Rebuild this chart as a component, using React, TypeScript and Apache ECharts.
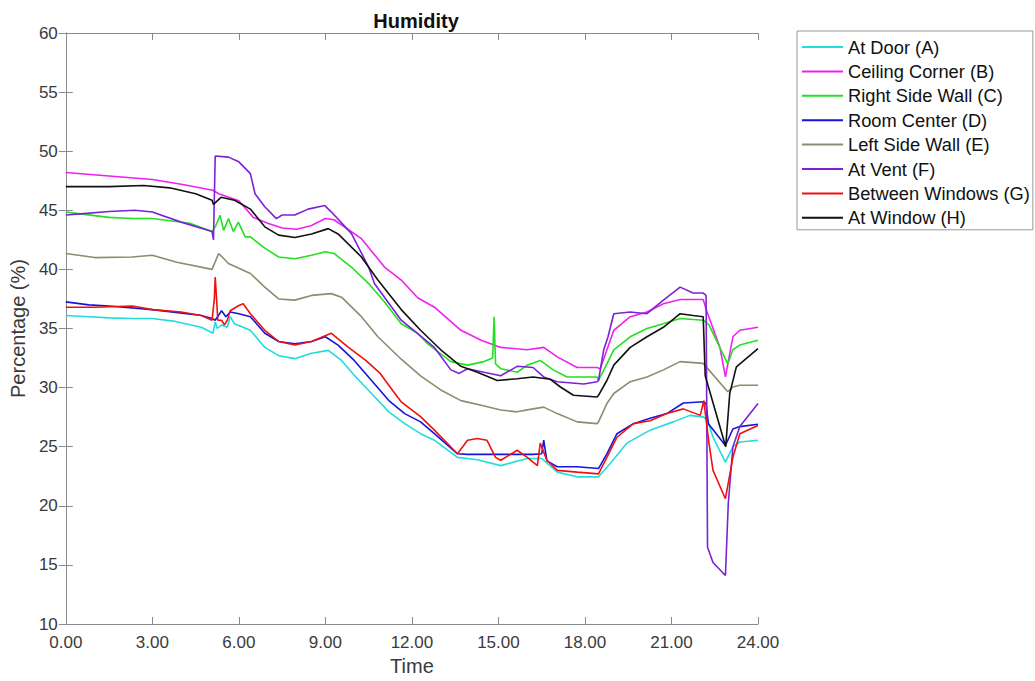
import React, { useEffect, useRef } from "react";
import * as echarts from "echarts";

// [time (h), humidity (%)]
const atDoorA: [number, number][] = [
  [0, 36.1], [0.8, 36.0], [1.5, 35.9], [2.3, 35.85], [3.0, 35.85], [3.8, 35.6], [4.7, 35.1], [5.1, 34.6],
  [5.18, 35.55], [5.25, 35.0], [5.4, 35.3], [5.6, 35.1], [5.7, 36.0], [5.85, 35.4], [6.4, 34.85], [6.9, 33.4],
  [7.38, 32.7], [7.94, 32.45], [8.52, 32.9], [9.1, 33.15], [9.56, 32.3], [10.0, 31.05], [10.6, 29.5], [11.2, 27.95],
  [11.75, 26.95], [12.3, 26.1], [12.78, 25.55], [13.58, 24.1], [14.27, 23.9], [15.08, 23.4], [16.0, 24.0], [16.5, 24.0],
  [17.04, 22.85], [17.73, 22.45], [18.47, 22.45], [18.87, 23.55], [19.45, 25.3], [20.26, 26.4], [21.06, 27.1],
  [21.64, 27.65], [22.12, 27.5], [22.25, 27.2], [22.44, 25.8], [22.87, 23.7], [23.13, 25.0], [23.37, 25.4], [24, 25.55],
];

const ceilingCornerB: [number, number][] = [
  [0, 48.2], [1.5, 47.9], [3.0, 47.6], [4.0, 47.2], [5.1, 46.7], [5.3, 46.4], [6.0, 45.8], [6.5, 44.4], [7.0, 43.9],
  [7.5, 43.5], [8.0, 43.4], [8.5, 43.7], [9.0, 44.3], [9.3, 44.2], [10.25, 42.6], [11.05, 40.2], [11.63, 39.1],
  [12.2, 37.6], [12.78, 36.8], [13.7, 34.85], [14.4, 34.0], [15.08, 33.4], [16.0, 33.2], [16.57, 33.4], [17.04, 32.6],
  [17.73, 31.7], [18.42, 31.7], [18.53, 31.6], [19.0, 34.85], [19.57, 36.0], [20.15, 36.4], [20.72, 37.1], [21.3, 37.45],
  [22.1, 37.45], [22.22, 36.5], [22.68, 33.4], [22.87, 30.9], [23.13, 34.3], [23.37, 34.85], [24, 35.1],
];

const rightSideWallC: [number, number][] = [
  [0, 44.85], [0.5, 44.7], [1.5, 44.4], [2.3, 44.3], [3.0, 44.3], [4.3, 43.9], [5.07, 43.2], [5.18, 43.6],
  [5.35, 44.57], [5.47, 43.3], [5.64, 44.3], [5.81, 43.2], [5.98, 44.0], [6.22, 42.75], [6.4, 42.75], [6.9, 41.8],
  [7.38, 41.05], [7.94, 40.9], [8.52, 41.2], [9.0, 41.5], [9.3, 41.35], [9.9, 40.2], [10.5, 38.8], [11.05, 37.25],
  [11.63, 35.4], [12.2, 34.6], [12.55, 33.7], [13.35, 32.2], [13.93, 31.9], [14.5, 32.2], [14.8, 32.5], [14.85, 36.0],
  [14.9, 32.0], [15.08, 31.6], [15.65, 31.3], [16.0, 31.9], [16.45, 32.3], [16.9, 31.5], [17.38, 30.9], [17.96, 30.9],
  [18.42, 30.9], [18.47, 30.6], [18.76, 32.0], [19.0, 33.2], [19.57, 34.3], [20.15, 35.0], [20.72, 35.4], [21.3, 35.85],
  [22.1, 35.7], [22.3, 35.3], [22.95, 32.0], [23.13, 33.2], [23.37, 33.6], [24, 34.0],
];

const roomCenterD: [number, number][] = [
  [0, 37.25], [0.8, 37.0], [1.5, 36.9], [3.0, 36.6], [4.7, 36.1], [5.07, 35.85], [5.18, 35.7], [5.4, 36.5],
  [5.55, 36.0], [5.7, 36.4], [6.0, 36.25], [6.4, 36.0], [6.9, 34.6], [7.38, 33.9], [7.94, 33.7], [8.52, 33.9],
  [9.0, 34.3], [9.44, 33.6], [10.0, 32.3], [10.6, 30.6], [11.2, 28.9], [11.75, 27.8], [12.3, 27.1], [12.78, 26.1],
  [13.58, 24.4], [13.93, 24.35], [15.08, 24.35], [16.2, 24.35], [16.5, 24.4], [16.57, 25.55], [16.68, 23.8],
  [17.04, 23.3], [17.73, 23.3], [18.47, 23.15], [18.76, 24.4], [19.11, 26.1], [19.68, 26.95], [20.26, 27.4],
  [20.84, 27.8], [21.41, 28.7], [22.12, 28.8], [22.2, 28.65], [22.28, 26.95], [22.87, 25.1], [23.13, 26.5],
  [23.37, 26.7], [24, 26.9],
];

const leftSideWallE: [number, number][] = [
  [0, 41.35], [1.0, 41.0], [2.3, 41.05], [3.0, 41.2], [3.85, 40.6], [5.07, 40.0], [5.3, 41.35], [5.64, 40.5],
  [6.4, 39.65], [6.9, 38.5], [7.38, 37.5], [7.94, 37.4], [8.52, 37.8], [9.2, 37.95], [9.56, 37.65], [10.25, 36.0],
  [10.82, 34.3], [11.63, 32.4], [12.3, 31.0], [13.0, 29.8], [13.7, 28.9], [14.4, 28.5], [15.08, 28.1], [15.65, 27.95],
  [16.2, 28.2], [16.57, 28.35], [17.04, 27.8], [17.73, 27.1], [18.42, 26.95], [18.47, 27.1], [18.76, 28.65],
  [19.0, 29.5], [19.57, 30.5], [20.15, 30.9], [20.72, 31.5], [21.3, 32.2], [22.1, 32.05], [22.95, 29.65],
  [23.13, 30.05], [23.37, 30.2], [24, 30.2],
];

const atVentF: [number, number][] = [
  [0, 44.6], [0.5, 44.7], [1.5, 44.9], [2.4, 45.0], [3.0, 44.85], [4.0, 44.0], [5.07, 43.2], [5.12, 42.5],
  [5.18, 49.6], [5.64, 49.5], [6.0, 49.1], [6.4, 48.1], [6.56, 46.4], [6.9, 45.3], [7.3, 44.3], [7.5, 44.6],
  [7.94, 44.6], [8.4, 45.1], [8.98, 45.4], [9.21, 44.85], [9.9, 43.05], [10.5, 40.2], [10.7, 38.8], [11.63, 35.7],
  [12.78, 33.4], [13.35, 31.5], [13.64, 31.2], [13.93, 31.6], [14.5, 31.3], [15.08, 31.0], [15.65, 31.8], [16.2, 31.7],
  [16.57, 30.9], [17.04, 30.5], [17.96, 30.3], [18.42, 30.5], [18.47, 30.6], [18.65, 33.2], [18.8, 34.3],
  [19.0, 36.25], [19.57, 36.4], [20.15, 36.25], [20.72, 37.4], [21.3, 38.5], [21.75, 38.0], [22.1, 38.0],
  [22.2, 37.8], [22.25, 16.5], [22.44, 15.2], [22.87, 14.1], [22.97, 20.2], [23.13, 25.0], [23.37, 26.7], [24, 28.65],
];

const betweenWindowsG: [number, number][] = [
  [0, 36.8], [1.0, 36.8], [2.3, 36.9], [3.0, 36.6], [4.0, 36.4], [4.7, 36.1], [5.07, 35.7], [5.15, 37.5],
  [5.18, 39.35], [5.24, 37.0], [5.27, 35.7], [5.4, 35.7], [5.5, 35.3], [5.6, 35.7], [5.7, 36.5], [6.0, 36.95],
  [6.15, 37.1], [6.4, 36.25], [6.9, 34.85], [7.38, 33.9], [7.94, 33.6], [8.52, 33.9], [9.2, 34.6], [9.8, 33.4],
  [10.4, 32.3], [10.9, 31.2], [11.5, 29.2], [11.63, 28.8], [12.3, 27.55], [12.78, 26.4], [13.58, 24.4], [13.93, 25.55],
  [14.27, 25.7], [14.6, 25.55], [14.9, 24.1], [15.08, 23.85], [15.65, 24.7], [16.0, 24.1], [16.35, 23.4],
  [16.45, 25.3], [16.68, 23.85], [17.04, 23.0], [17.73, 22.85], [18.47, 22.7], [18.76, 24.1], [19.11, 25.8],
  [19.68, 26.95], [20.26, 27.2], [20.84, 27.8], [21.41, 28.2], [22.0, 27.65], [22.12, 28.9], [22.3, 25.3],
  [22.44, 23.0], [22.87, 20.6], [23.13, 24.1], [23.37, 26.1], [24, 26.8],
];

const atWindowH: [number, number][] = [
  [0, 47.0], [1.5, 47.0], [2.7, 47.1], [3.6, 46.9], [4.5, 46.4], [5.07, 45.85], [5.12, 45.5], [5.38, 46.1],
  [5.85, 45.85], [6.4, 45.1], [6.9, 43.6], [7.38, 42.9], [7.94, 42.7], [8.52, 43.0], [9.1, 43.45], [9.44, 43.0],
  [10.25, 41.05], [10.82, 39.1], [11.63, 36.6], [12.3, 34.85], [13.0, 33.2], [13.7, 31.8], [14.27, 31.3],
  [14.96, 30.6], [15.65, 30.75], [16.2, 30.9], [16.8, 30.7], [17.15, 30.05], [17.6, 29.35], [18.42, 29.2],
  [18.47, 29.35], [18.76, 30.6], [19.0, 31.9], [19.57, 33.4], [20.15, 34.3], [20.72, 35.1], [21.3, 36.25],
  [21.75, 36.1], [22.1, 36.0], [22.17, 31.0], [22.88, 25.0], [23.02, 29.5], [23.25, 31.75], [24, 33.3],
];

const seriesNames = [
  "At Door (A)", "Ceiling Corner (B)", "Right Side Wall (C)", "Room Center (D)",
  "Left Side Wall (E)", "At Vent (F)", "Between Windows (G)", "At Window (H)",
];
const seriesData = [atDoorA, ceilingCornerB, rightSideWallC, roomCenterD, leftSideWallE, atVentF, betweenWindowsG, atWindowH];
const seriesColors = ["#22dcdc", "#ee22ee", "#22e022", "#1515e0", "#8c8c6e", "#7b22d8", "#ee1111", "#111111"];

const FONT = "'Liberation Sans', Arial, Helvetica, sans-serif";
const AXIS_COLOR = "#8a8a8a";
const TEXT_COLOR = "#3a3a3a";

export default function App() {
  const ref = useRef<HTMLDivElement>(null);
  useEffect(() => {
    if (!ref.current) return;
    const chart = echarts.init(ref.current, undefined, { renderer: "svg" });
    const axisCommon = {
      axisLine: { show: true, lineStyle: { color: AXIS_COLOR, width: 1 } },
      axisTick: { show: true, inside: true, length: 7, lineStyle: { color: AXIS_COLOR } },
      splitLine: { show: false },
    };
    chart.setOption({
      animation: false,
      backgroundColor: "#ffffff",
      title: {
        text: "Humidity",
        left: 411,
        top: 6,
        textAlign: "center",
        textStyle: { fontFamily: FONT, fontSize: 20, fontWeight: "bold", color: "#111" },
      },
      legend: {
        orient: "vertical",
        left: 797,
        top: 31,
        padding: [6, 3, 2, 5],
        icon: "rect",
        itemWidth: 41,
        itemHeight: 2,
        itemGap: 4.4,
        borderColor: "#999",
        borderWidth: 1,
        backgroundColor: "#fff",
        textStyle: { fontFamily: FONT, fontSize: 18.3, color: "#111", lineHeight: 20 },
        data: seriesNames,
      },
      grid: { left: 63, right: 277, top: 33, bottom: 57, containLabel: false },
      xAxis: [
        {
          type: "value",
          min: 0,
          max: 24,
          interval: 3,
          position: "bottom",
          name: "Time",
          nameLocation: "middle",
          nameGap: 30,
          nameTextStyle: { fontFamily: FONT, fontSize: 20, color: TEXT_COLOR },
          axisLabel: {
            fontFamily: FONT,
            fontSize: 17,
            color: TEXT_COLOR,
            margin: 10,
            formatter: (v: number) => v.toFixed(2),
          },
          ...axisCommon,
        },
        {
          type: "value",
          min: 0,
          max: 24,
          interval: 3,
          position: "top",
          axisLabel: { show: false },
          ...axisCommon,
        },
      ],
      yAxis: [
        {
          type: "value",
          min: 10,
          max: 60,
          interval: 5,
          position: "left",
          name: "Percentage (%)",
          nameLocation: "middle",
          nameGap: 36,
          nameTextStyle: { fontFamily: FONT, fontSize: 20, color: TEXT_COLOR },
          axisLabel: { fontFamily: FONT, fontSize: 17, color: TEXT_COLOR, margin: 8 },
          ...axisCommon,
        },
        {
          type: "value",
          min: 10,
          max: 60,
          interval: 5,
          position: "right",
          axisLabel: { show: false },
          ...axisCommon,
        },
      ],
      series: seriesNames.map((name, i) => ({
        name,
        type: "line",
        data: seriesData[i],
        xAxisIndex: 0,
        yAxisIndex: 0,
        symbol: "none",
        showSymbol: false,
        smooth: false,
        color: seriesColors[i],
        lineStyle: { color: seriesColors[i], width: 1.6 },
      })),
    });
    return () => chart.dispose();
  }, []);
  return <div ref={ref} style={{ position: "absolute", left: 0, top: 0, width: 1035, height: 681 }} />;
}
